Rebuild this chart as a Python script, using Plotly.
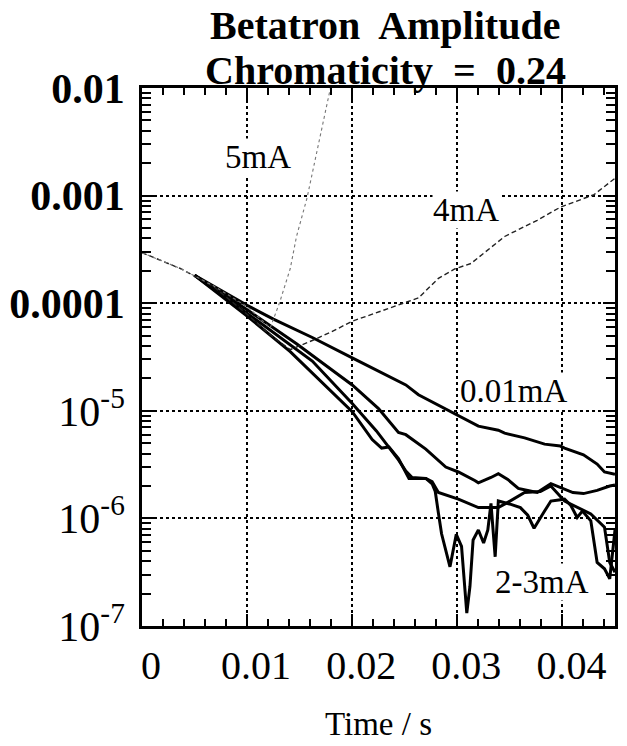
import math
import plotly.graph_objects as go

# ---------------- data ----------------
t_001mA = [0.005, 0.0068, 0.01, 0.0125, 0.0162, 0.02, 0.0225, 0.0251, 0.0263, 0.0292,
           0.0298, 0.032, 0.0339, 0.0345, 0.0364, 0.0383, 0.0398, 0.0402, 0.042, 0.0433,
           0.044, 0.045]
a_001mA = [1.82e-4, 1.45e-4, 9.55e-5, 7.1e-5, 4.8e-5, 3.1e-5, 2.35e-5, 1.74e-5, 1.41e-5, 1.0e-5,
           9.3e-6, 7.2e-6, 6.6e-6, 6.2e-6, 5.6e-6, 4.9e-6, 4.7e-6, 4.5e-6, 3.9e-6, 3.2e-6,
           2.7e-6, 2.57e-6]

t_1mA = [0.005, 0.01, 0.0147, 0.02, 0.0225, 0.0244, 0.0251, 0.027, 0.0289, 0.0301,
         0.0317, 0.032, 0.0332, 0.0339, 0.0348, 0.0358, 0.0367, 0.0376, 0.0389, 0.0402,
         0.041, 0.042, 0.0433, 0.0445, 0.045]
a_1mA = [1.82e-4, 8.7e-5, 4.2e-5, 1.74e-5, 1.05e-5, 6.3e-6, 6.0e-6, 4.4e-6, 3.0e-6, 2.7e-6,
         2.24e-6, 2.14e-6, 2.4e-6, 2.6e-6, 2.3e-6, 1.9e-6, 1.82e-6, 1.74e-6, 2.1e-6, 1.86e-6,
         1.74e-6, 1.7e-6, 1.82e-6, 2.0e-6, 2.04e-6]

t_2mA = [0.005, 0.01, 0.0115, 0.0162, 0.02, 0.0223, 0.0235, 0.0244, 0.0251, 0.0257,
         0.027, 0.0276, 0.0282, 0.0301, 0.032, 0.0339, 0.0348, 0.0364, 0.0379, 0.0389,
         0.0402, 0.0414, 0.0427, 0.044, 0.0445, 0.045]
a_2mA = [1.82e-4, 8.1e-5, 6.3e-5, 2.9e-5, 1.17e-5, 6.5e-6, 4.6e-6, 3.5e-6, 2.75e-6, 2.4e-6,
         2.35e-6, 2.2e-6, 1.74e-6, 1.51e-6, 1.26e-6, 1.26e-6, 1.41e-6, 1.74e-6, 1.78e-6, 2.0e-6,
         1.45e-6, 1.26e-6, 1.1e-6, 8.3e-7, 3.9e-7, 3.16e-7]

t_3mA = [0.005, 0.01, 0.0141, 0.0162, 0.02, 0.0219, 0.0228, 0.0235, 0.0244, 0.0254,
         0.027, 0.0276, 0.0279, 0.0282, 0.0285, 0.0293, 0.0299, 0.0304, 0.0309, 0.0312,
         0.0315, 0.032, 0.0325, 0.0329, 0.0332, 0.0336, 0.0339, 0.0351, 0.036, 0.0367,
         0.0373, 0.0383, 0.0389, 0.0402, 0.0408, 0.0414, 0.0419, 0.0427, 0.043, 0.0433,
         0.044, 0.0445, 0.045]
a_3mA = [1.82e-4, 7.6e-5, 3.55e-5, 2.24e-5, 9.8e-6, 5.4e-6, 4.5e-6, 4.6e-6, 3.6e-6, 2.35e-6,
         2.35e-6, 2.1e-6, 1.78e-6, 1.12e-6, 7.2e-7, 3.55e-7, 7.1e-7, 5.5e-7, 1.32e-7, 2.34e-7,
         6.3e-7, 7.8e-7, 5.9e-7, 7.8e-7, 1.38e-6, 4.4e-7, 1.45e-6, 1.35e-6, 1.26e-6, 1.07e-6,
         8.1e-7, 1.17e-6, 1.45e-6, 1.51e-6, 1.32e-6, 1.02e-6, 1.17e-6, 9.5e-7, 6.3e-7, 3.9e-7,
         3.4e-7, 2.75e-7, 7.8e-7]

t_4mA = [0.0, 0.0037, 0.0068, 0.01, 0.012, 0.0141, 0.0162, 0.018, 0.02, 0.0263,
         0.0282, 0.0298, 0.0313, 0.0345, 0.0376, 0.0398, 0.043, 0.045]
a_4mA = [2.95e-4, 2.09e-4, 1.43e-4, 7.9e-5, 5.25e-5, 3.7e-5, 4.5e-5, 5.4e-5, 6.8e-5, 1.12e-4,
         1.7e-4, 2.09e-4, 2.34e-4, 4.17e-4, 5.9e-4, 7.8e-4, 1.02e-3, 1.45e-3]

t_5mA = [0.0, 0.0037, 0.0068, 0.01, 0.0122, 0.0131, 0.0141, 0.0147, 0.0157, 0.0169, 0.0178, 0.0181]
a_5mA = [2.95e-4, 2.09e-4, 1.45e-4, 9.3e-5, 5.9e-5, 1.02e-4, 2.09e-4, 4.17e-4, 9.5e-4, 3.4e-3, 9.5e-3, 1.2e-2]

x_tickvals = [0, 0.01, 0.02, 0.03, 0.04]
x_ticktext = ["0", "0.01", "0.02", "0.03", "0.04"]
y_tickvals = [1e-2, 1e-3, 1e-4, 1e-5, 1e-6, 1e-7]
y_ticktext = ["<b>0.01</b>", "<b>0.001</b>", "<b>0.0001</b>", "10<sup>-5</sup>",
              "10<sup>-6</sup>", "10<sup>-7</sup>"]

labels = ["5mA", "4mA", "0.01mA", "2-3mA"]
label_t = [0.0110, 0.0308, 0.0353, 0.0381]
label_a = [2.3e-3, 7.3e-4, 1.54e-5, 2.55e-7]

title_lines = ["Betatron  Amplitude", "Chromaticity  =  0.24"]

FONT = "Liberation Serif"

fig = go.Figure()
solid = dict(color="black", width=3)
for tt, aa in [(t_001mA, a_001mA), (t_1mA, a_1mA), (t_2mA, a_2mA), (t_3mA, a_3mA)]:
    fig.add_trace(go.Scatter(x=tt, y=aa, mode="lines", line=solid, showlegend=False))
fig.add_trace(go.Scatter(x=t_4mA, y=a_4mA, mode="lines",
                         line=dict(color="#222", width=1.4, dash="5px,3px"), showlegend=False))
fig.add_trace(go.Scatter(x=t_5mA, y=a_5mA, mode="lines",
                         line=dict(color="#777", width=1.1, dash="dot"), showlegend=False))

for lab, lx, ly in zip(labels, label_t, label_a):
    fig.add_annotation(x=lx, y=math.log10(ly), xref="x", yref="y", text=lab, showarrow=False,
                       font=dict(family=FONT, size=33, color="black"),
                       bgcolor="white", borderpad=0)

for line, ypos in zip(title_lines, [1.117, 1.0325]):
    fig.add_annotation(x=0.514, y=ypos, xref="paper", yref="paper", text="<b>%s</b>" % line,
                       showarrow=False, xanchor="center", yanchor="middle",
                       font=dict(family=FONT, size=40, color="black"))

fig.update_layout(
    width=627, height=746,
    margin=dict(l=141, r=9, t=88, b=107),
    paper_bgcolor="white", plot_bgcolor="white",
    font=dict(family=FONT, color="black"),
)
fig.update_xaxes(
    range=[0, 0.045], tickvals=x_tickvals, ticktext=x_ticktext,
    ticks="inside", ticklen=12, tickwidth=1.8, tickcolor="black",
    showline=True, linewidth=2.5, linecolor="black", mirror="allticks",
    showgrid=True, gridcolor="black", gridwidth=1.8, griddash="dot",
    minor=dict(dtick=0.002, ticks="inside", ticklen=7, tickwidth=1.8, tickcolor="black", showgrid=False),
    tickfont=dict(family=FONT, size=40, color="black"), ticklabelstandoff=2, ticklabelshift=9,
    title=dict(text="Time / s", font=dict(family=FONT, size=33, color="black"), standoff=26),
    zeroline=False,
)
fig.update_yaxes(
    type="log", range=[-7, -2], tickvals=y_tickvals, ticktext=y_ticktext,
    ticks="inside", ticklen=12, tickwidth=1.8, tickcolor="black",
    showline=True, linewidth=2.5, linecolor="black", mirror="allticks",
    showgrid=True, gridcolor="black", gridwidth=1.8, griddash="dot",
    minor=dict(tickvals=[m * 10.0 ** e for e in range(-7, -2) for m in range(2, 10)],
               ticks="inside", ticklen=9, tickwidth=1.8, tickcolor="black", showgrid=False),
    tickfont=dict(family=FONT, size=42, color="black"), ticklabelstandoff=6,
    zeroline=False,
)

fig.write_html("out.html")
